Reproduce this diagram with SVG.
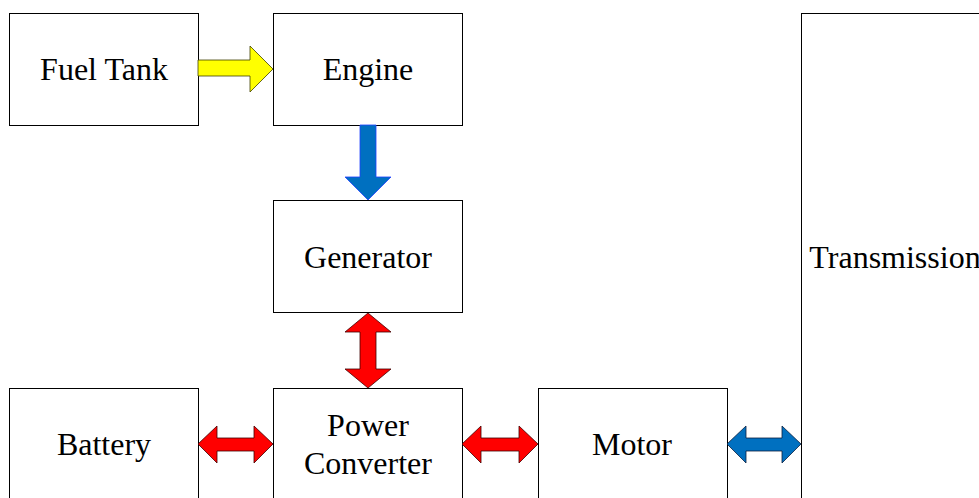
<svg xmlns="http://www.w3.org/2000/svg" width="979" height="498" viewBox="0 0 979 498">
  <style>
    .box { fill: #ffffff; stroke: #000000; stroke-width: 1; }
    .lbl { font-family: "Liberation Serif", "Times New Roman", serif; font-size: 32px; fill: #000000; text-anchor: middle; }
    .yellow { fill: #ffff00; stroke: #404000; stroke-width: 0.8; }
    .blue { fill: #0070c0; stroke: #1f3fff; stroke-width: 0.8; }
    .red { fill: #ff0000; stroke: #400000; stroke-width: 0.8; }
    .blue2 { fill: #0070c0; stroke: #0a2040; stroke-width: 0.8; }
  </style>
  <rect width="979" height="498" fill="#ffffff"/>

  <g id="fuel-tank">
    <rect class="box" x="9.5" y="13.5" width="189" height="112"/>
    <text class="lbl" x="104" y="80">Fuel Tank</text>
  </g>
  <g id="engine">
    <rect class="box" x="273.5" y="13.5" width="189" height="112"/>
    <text class="lbl" x="368" y="80">Engine</text>
  </g>
  <g id="generator">
    <rect class="box" x="273.5" y="200.5" width="189" height="112"/>
    <text class="lbl" x="368" y="268">Generator</text>
  </g>
  <g id="battery">
    <rect class="box" x="9.5" y="388.5" width="189" height="112"/>
    <text class="lbl" x="104" y="455">Battery</text>
  </g>
  <g id="power-converter">
    <rect class="box" x="273.5" y="388.5" width="189" height="112"/>
    <text class="lbl" x="368" y="436">Power</text>
    <text class="lbl" x="368" y="474">Converter</text>
  </g>
  <g id="motor">
    <rect class="box" x="538.5" y="388.5" width="189" height="112"/>
    <text class="lbl" x="632" y="455">Motor</text>
  </g>
  <g id="transmission">
    <rect class="box" x="801.5" y="13.5" width="195" height="490"/>
    <text class="lbl" x="895" y="268">Transmission</text>
  </g>

  <g id="connectors">
    <!-- fuel tank to engine -->
    <polygon class="yellow" points="198,60 250,60 250,46 273,69 250,92 250,76 198,76"/>
    <!-- engine to generator -->
    <polygon class="blue" points="360,125 376,125 376,177 391,177 368,200 345,177 360,177"/>
    <!-- generator to power converter -->
    <polygon class="red" points="368,313 391,332 376,332 376,369 391,369 368,388 345,369 360,369 360,332 345,332"/>
    <!-- battery to power converter -->
    <polygon class="red" points="198,444 217,426 217,438 254,438 254,426 273,444 254,463 254,451 217,451 217,463"/>
    <!-- power converter to motor -->
    <polygon class="red" points="462,444 481,426 481,438 519,438 519,426 538,444 519,463 519,451 481,451 481,463"/>
    <!-- motor to transmission -->
    <polygon class="blue2" points="727,444 746,426 746,438 782,438 782,426 801,444 782,463 782,451 746,451 746,463"/>
  </g>
</svg>
